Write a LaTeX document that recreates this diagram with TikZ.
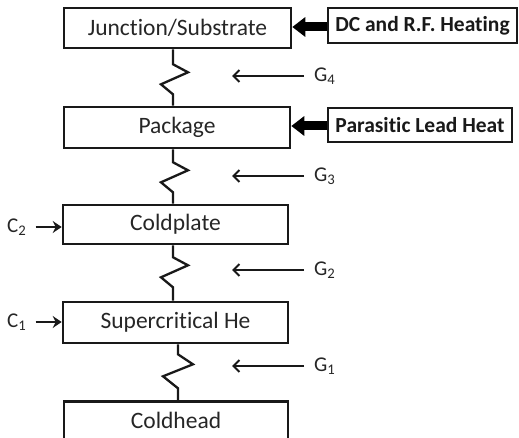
\documentclass[tikz,border=0pt]{standalone}
\usepackage{fontspec}
\setmainfont{Carlito}[Ligatures={NoCommon}]
\usetikzlibrary{arrows.meta}
\begin{document}
\begin{tikzpicture}[x=1pt,y=-1pt,
  box/.style={draw=black!90,line width=2.6pt,minimum height=40pt,inner sep=0pt,font=\fontsize{23.5}{26}\selectfont,text=black!85},
  heat/.style={draw=black!90,line width=2.6pt,inner sep=0pt,font=\bfseries\fontsize{21.5}{24}\selectfont,text=black!90},
  zig/.style={draw=black!90,line width=2.3pt},
  garrow/.style={draw=black!90,line width=2pt,-{Straight Barb[length=6pt,width=12pt]}},
  carrow/.style={draw=black!90,line width=2.8pt,-{Stealth[length=9pt,width=12pt]}},
  fat/.style={draw=black,line width=9pt,-{Triangle[length=13pt,width=19pt]}},
  lab/.style={font=\fontsize{21}{24}\selectfont,text=black!85,inner sep=0pt}]
\useasboundingbox (0,0) rectangle (519,438);
% boxes
\node[box,minimum width=227pt,minimum height=40pt] (J) at (177.5,28) {Junction/Substrate};
\node[box,minimum width=226pt,minimum height=41pt] (P) at (177,127.5) {Package};
\node[box,minimum width=225pt,minimum height=39pt] (CP) at (175.5,224.5) {Coldplate};
\node[box,minimum width=225pt,minimum height=41pt] (SH) at (175.5,322.5) {Supercritical He};
\node[box,minimum width=224pt,minimum height=60pt,anchor=north] (CH) at (176,400) {};
\node[font=\fontsize{23.5}{26}\selectfont,text=black!85] (CHt) at (176,420) {Coldhead};
\node[heat,minimum width=189pt,minimum height=35pt] (DC) at (422.5,25.5) {DC and R.F. Heating};
\node[heat,minimum width=184pt,minimum height=34pt] (PL) at (420,125) {Parasitic Lead Heat};
% heat arrows
\draw[fat] (DC.west |- 0,27) -- (J.east |- 0,27);
\draw[fat] (PL.west |- 0,126) -- (P.east |- 0,126);
% zigzags
\draw[zig] ([xshift=-4.5pt]J.south) -- ++(0,15) -- ++(15,8) -- ++(-27,12) -- ++(12,10) -- ([xshift=-4pt]P.north);
\draw[zig] ([xshift=-4pt]P.south) -- ++(0,13) -- ++(15,8) -- ++(-27,12) -- ++(12,10) -- (CP.north-|173,0);
\draw[zig] ([xshift=-2.5pt]CP.south) -- ++(0,12) -- ++(15,8) -- ++(-27,12) -- ++(12,10) -- (SH.north-|173,0);
\draw[zig] ([xshift=2.5pt]SH.south) -- ++(0,10) -- ++(15,10) -- ++(-30,12) -- ++(15,12) -- (CH.north-|178,0);
% G labels
\node[lab,anchor=west] (G4) at (314,76) {G\textsubscript{4}};
\node[lab,anchor=west] (G3) at (314,176) {G\textsubscript{3}};
\node[lab,anchor=west] (G2) at (314,270) {G\textsubscript{2}};
\node[lab,anchor=west] (G1) at (314,366) {G\textsubscript{1}};
\coordinate (g4) at (232,76);
\coordinate (g3) at (232,176);
\coordinate (g2) at (232,270);
\coordinate (g1) at (232,366);
\draw[garrow] (G4.west) ++(-10,0) -- (g4);
\draw[garrow] (G3.west) ++(-10,0) -- (g3);
\draw[garrow] (G2.west) ++(-10,0) -- (g2);
\draw[garrow] (G1.west) ++(-10,0) -- (g1);
% C labels
\node[lab,anchor=west] (C2) at (7,227) {C\textsubscript{2}};
\node[lab,anchor=west] (C1) at (7,322) {C\textsubscript{1}};
\draw[carrow] (C2.east) ++(9,0) -- (CP.west |- C2.east);
\draw[carrow] (C1.east) ++(9,0) -- (SH.west |- C1.east);
\end{tikzpicture}
\end{document}
